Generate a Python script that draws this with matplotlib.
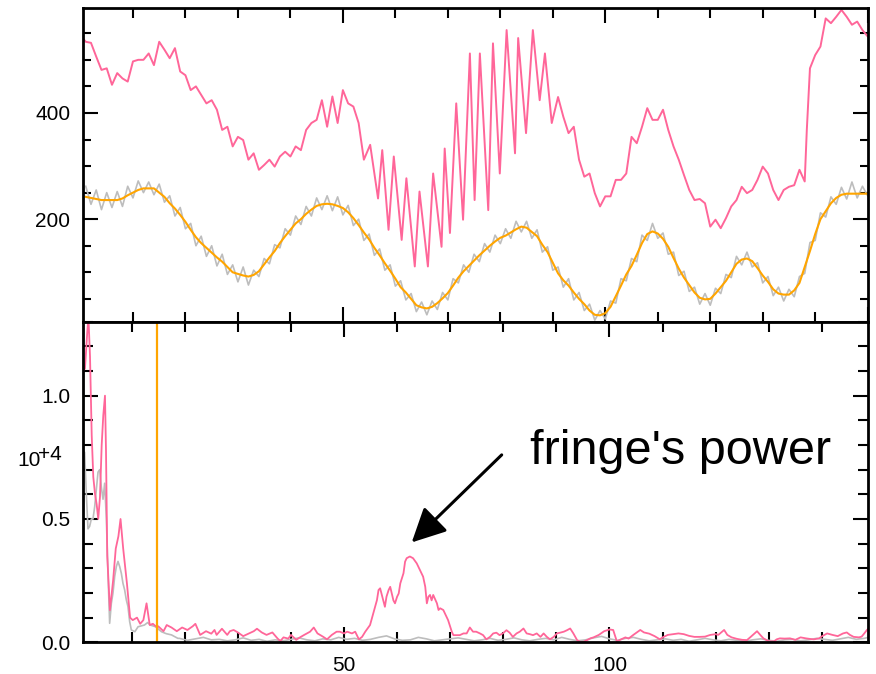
import matplotlib
matplotlib.use('Agg')
import matplotlib.pyplot as plt
from matplotlib.ticker import MultipleLocator, FormatStrFormatter
import numpy as np

plt.rcParams['font.family'] = ['Liberation Sans', 'DejaVu Sans']

# Colours
pink = '#ff6699'
grey = '#bdbdbd'
orange = '#ffa500'

# ---- Top panel: raw signal (pink), fringe-free signal (grey) and smoothed (orange)
pink_top_x = [0.5] + list(range(1, 55)) + [
    55.2, 56.7, 57.5, 58.7, 59.7, 61.2, 62.1, 63.7, 64.6, 66.2, 67.2, 68.8, 69.4, 70.4,
    71.6, 72.9, 74.2, 75.1, 76.1, 77.7, 78.6, 79.9, 81.2, 82.8, 83.4, 84.9, 86.2, 87.5,
    88.5, 89.8, 91] + list(range(92, 139)) + [138.4] + list(range(139, 151))
pink_top_y = [540,
    534, 532, 506, 481, 484, 453, 475, 465, 459, 497, 500, 500, 512, 490, 534, 519, 503, 522,
    478, 471, 443, 450, 434, 418, 424, 406, 368, 374, 337, 355, 349, 312, 324, 293, 302, 312,
    299, 318, 327, 318, 337, 330, 368, 381, 387, 424, 374, 431, 381, 443, 418, 412, 381, 312,
    340, 239, 330, 180, 318, 161, 277, 111, 252, 111, 286, 148, 333, 174,
    418, 199, 512, 236, 512, 217, 531, 286, 556, 324, 541, 362, 556, 424,
    512, 381, 430,
    393, 362, 374, 312, 280, 286, 249, 224, 243, 243, 274, 274, 286, 355, 343, 374, 409, 387,
    387, 406, 368, 337, 312, 283, 255, 236, 238, 230, 186, 199, 183, 202, 224, 236, 261, 249,
    255, 274, 299, 286, 255, 236, 255, 261, 264, 293, 271,
    368,
    484, 509, 525, 578, 569, 581, 594, 581, 566, 572, 556, 544]

top_x = list(range(1, 151))
orange_top = [
    242, 240, 238, 236, 236, 236, 236, 239, 245, 250, 255, 258, 258, 258, 250, 242, 230, 220,
    208, 195, 180, 166, 155, 146, 137, 128, 120, 110, 100, 97, 94, 92, 95, 102, 115, 128, 140,
    155, 168, 180, 192, 200, 210, 218, 225, 228, 229, 228, 225, 221, 213, 202, 189, 175, 162,
    146, 132, 117, 103, 88, 72, 62, 50, 38, 34, 32, 35, 42, 51, 61, 75, 90, 102, 112, 122, 132,
    141, 150, 158, 165, 169, 175, 181, 186, 184, 176, 168, 152, 138, 118, 98, 85, 75, 62, 50,
    40, 28, 20, 19, 23, 35, 55, 75, 96, 112, 133, 155, 172, 177, 173, 163, 148, 127, 107, 90,
    76, 62, 52, 49, 50, 60, 72, 84, 100, 116, 124, 126, 121, 108, 94, 82, 68, 60, 58, 58, 66,
    80, 110, 140, 172, 200, 215, 230, 240, 246, 248, 248, 248, 248, 248]
grey_top = [
    262, 228, 255, 218, 250, 222, 252, 224, 262, 240, 272, 250, 270, 246, 266, 232, 244, 206,
    222, 182, 192, 150, 168, 130, 150, 112, 134, 96, 114, 82, 110, 76, 104, 92, 126, 116, 152,
    146, 182, 170, 206, 190, 224, 206, 240, 218, 244, 216, 242, 208, 226, 188, 200, 160, 172,
    132, 144, 104, 114, 74, 84, 48, 60, 26, 44, 20, 46, 30, 62, 48, 88, 80, 114, 100, 134, 120,
    154, 138, 170, 154, 182, 164, 196, 176, 196, 164, 180, 138, 148, 104, 110, 72, 88, 48, 62,
    28, 40, 10, 28, 12, 46, 42, 88, 84, 126, 120, 170, 160, 192, 164, 174, 134, 138, 94, 102,
    64, 72, 40, 60, 38, 70, 60, 96, 90, 130, 114, 138, 110, 118, 80, 92, 56, 72, 46, 68, 54,
    92, 98, 156, 160, 212, 204, 242, 228, 260, 238, 270, 240, 262, 244]

# ---- Bottom panel: power spectra (units of 10^4)
pink_bot_x = [
    0.85, 1.2, 1.64, 1.85, 2.15, 2.47, 2.77, 3.1, 3.4, 3.7, 4.03, 4.35, 4.65, 4.97, 5.16, 5.4,
    5.9, 6.5, 7.0, 7.5, 7.9, 8.4, 9.1, 9.7, 10.2, 11, 11.6, 12.2, 12.8, 13.4, 14, 14.8,
    15, 16, 16.6, 17.5, 18.5, 19.5, 20.5, 21.5, 22, 22.9, 24, 25, 25.6, 26, 27, 28, 28.5, 29.2,
    30, 31, 32, 33, 33.6, 34.5, 35.4, 36.5, 37.5, 38, 38.6, 39.5, 40, 41, 41.7,
    42.5, 43.6, 44.3, 45, 46.1, 46.8, 47.7, 48.6, 49.2, 50, 50.6, 51.5, 52.1, 52.8, 53.4, 54,
    54.9, 55.5, 56.2, 56.5, 56.8, 57.2, 57.7, 58, 58.4, 58.7, 59, 59.3, 59.6, 60, 60.3, 60.6,
    61.2, 61.5, 61.8, 62.4, 63, 63.7, 64.3, 64.9, 65.3, 65.6, 65.9, 66.2, 66.5, 66.8, 67.5,
    67.8, 68.1, 68.7, 69.0, 69.6, 70, 70.3, 70.6, 71.2, 71.8, 72.5, 73.1, 73.7, 74.3, 74.9,
    75.6, 76.2, 76.8, 77.5, 78.1, 78.7, 79.3, 79.9, 80.6, 81.2, 81.8, 82.5, 83.1, 83.8, 84.4,
    85, 85.6, 86.3, 87, 87.6, 88.2, 88.8, 89.5, 90.1, 90.7, 91.4, 92, 92.6, 93.2, 93.9, 94.5,
    95.1, 95.8, 96.4, 97, 98, 99, 100, 100.7, 101.4, 102, 103, 103.6, 104.5, 105.8, 106.5,
    107.5, 108.5, 109.5, 110, 111, 112, 113, 114, 115, 116, 117, 118, 119, 120, 120.5, 121.6,
    122.2, 123, 124, 125, 125.9, 126.5, 127.8, 128.4, 129, 130, 131, 131.5, 132.1, 133, 134,
    135, 136, 137, 138, 138.5, 139.5, 140, 141, 142, 143, 144, 144.7, 145.3, 146, 147, 147.5,
    148, 148.5, 148.8]
pink_bot_y = [
    1.10, 1.11, 1.26, 1.32, 1.16, 0.84, 0.67, 0.60, 0.56, 0.50, 0.59, 0.80, 0.92, 1.00, 0.78, 0.35,
    0.13, 0.25, 0.38, 0.43, 0.50, 0.38, 0.24, 0.10, 0.09, 0.10, 0.075, 0.09, 0.158, 0.07, 0.075, 0.06,
    0.065, 0.045, 0.07, 0.06, 0.045, 0.06, 0.05, 0.065, 0.075, 0.03, 0.045, 0.035, 0.05, 0.03, 0.055,
    0.03, 0.045, 0.05, 0.04, 0.025, 0.035, 0.045, 0.055, 0.04, 0.03, 0.04, 0.015, 0.005, 0.02, 0.015,
    0.03, 0.01, 0.02,
    0.03, 0.043, 0.06, 0.036, 0.022, 0.012, 0.03, 0.043, 0.043, 0.036, 0.043, 0.036, 0.043, 0.012,
    0.022, 0.043, 0.07, 0.117, 0.171, 0.212, 0.219, 0.185, 0.144, 0.185, 0.212, 0.225, 0.198, 0.17,
    0.158, 0.185, 0.198, 0.239, 0.28, 0.327, 0.341, 0.348, 0.341, 0.32, 0.293, 0.266, 0.225, 0.158,
    0.185, 0.192, 0.17, 0.192, 0.158, 0.131, 0.138, 0.131, 0.117, 0.09, 0.063, 0.043, 0.029, 0.029,
    0.029, 0.036, 0.036, 0.06, 0.043, 0.043, 0.036, 0.029, 0.012, 0.022, 0.036, 0.039, 0.029, 0.036,
    0.049, 0.039, 0.022, 0.036, 0.043, 0.056, 0.036, 0.033, 0.029, 0.036, 0.022, 0.036, 0.022, 0.012,
    0.022, 0.036, 0.039, 0.043, 0.049, 0.056, 0.036, 0.009, 0.002, 0.002, 0.009, 0.016, 0.02, 0.03,
    0.045, 0.052, 0.05, 0.003, 0.01, 0.02, 0.015, 0.03, 0.05, 0.04, 0.035, 0.025, 0.012, 0.02, 0.03,
    0.033, 0.036, 0.033, 0.026, 0.022, 0.022, 0.023, 0.03, 0.033, 0.03, 0.05, 0.03, 0.02, 0.014,
    0.01, 0.009, 0.02, 0.045, 0.03, 0.016, 0.004, 0.004, 0.012, 0.016, 0.015, 0.016, 0.01, 0.02,
    0.016, 0.013, 0.012, 0.016, 0.024, 0.036, 0.03, 0.025, 0.036, 0.04, 0.03, 0.022, 0.02, 0.023,
    0.036, 0.05, 0.056]

grey_bot_x = [
    0.83, 1.14, 1.46, 1.77, 2.08, 2.4, 2.71, 3.03, 3.34, 3.66, 3.97, 4.28, 4.6, 4.91, 5.23, 5.54,
    5.85, 6.17, 6.48, 6.8, 7.11, 7.42, 7.74, 8.05, 8.36, 8.68, 8.99, 9.3, 9.62, 9.93, 10.6, 11.2,
    12.4, 13.0, 13.5, 14.5, 15.6, 16.5, 17.5, 18.7,
    19, 20.5, 22, 23.5, 25, 26.5, 28, 29.5, 31, 32.5, 34, 35.5, 37, 38.5, 40, 41.5, 43, 44.5, 46,
    47.5, 49, 50.5, 52, 53.5, 55, 56.5, 58, 59.5, 61, 62.5, 64, 65.5, 67, 68.5, 70, 71.5, 73,
    74.5, 76, 77.5, 79, 80.5, 82, 83.5, 85, 86.5, 88, 89.5, 91, 92.5, 94, 95.5, 97, 98.5, 100,
    101.5, 103, 104.5, 106, 107.5, 109, 110.5, 112, 113.5, 115, 116.5, 118, 119.5, 121, 122.5,
    124, 125.5, 127, 128.5, 130, 131.5, 133, 134.5, 136, 137.5, 139, 140.5, 142, 143.5, 145,
    146.5, 148, 148.8]
grey_bot_y = [
    0.78, 0.77, 0.60, 0.46, 0.47, 0.50, 0.50, 0.55, 0.62, 0.69, 0.70, 0.63, 0.58, 0.645, 0.50, 0.28,
    0.077, 0.158, 0.20, 0.267, 0.307, 0.328, 0.307, 0.28, 0.239, 0.212, 0.172, 0.145, 0.084, 0.05,
    0.043, 0.063, 0.07, 0.08, 0.07, 0.063, 0.043, 0.035, 0.03, 0.016,
    0.016, 0.008, 0.014, 0.02, 0.01, 0.012, 0.006, 0.01, 0.018, 0.008, 0.012, 0.004, 0.01, 0.006,
    0.012, 0.018, 0.01, 0.006, 0.014, 0.01, 0.02, 0.012, 0.016, 0.008, 0.012, 0.02, 0.026, 0.014,
    0.008, 0.01, 0.02, 0.014, 0.006, 0.01, 0.014, 0.018, 0.012, 0.006, 0.01, 0.016, 0.008, 0.012,
    0.018, 0.01, 0.006, 0.012, 0.016, 0.01, 0.02, 0.012, 0.006, 0.01, 0.018, 0.024, 0.014, 0.008,
    0.016, 0.02, 0.012, 0.006, 0.01, 0.014, 0.008, 0.012, 0.004, 0.01, 0.016, 0.01, 0.006, 0.012,
    0.008, 0.004, 0.01, 0.014, 0.008, 0.004, 0.01, 0.012, 0.006, 0.01, 0.016, 0.012, 0.008, 0.014,
    0.02, 0.012, 0.016, 0.02]

cutoff_x = 14.8
arrow_tail = (79.7, 0.76)
arrow_tip = (62.75, 0.405)

# Figure and axes (pixel layout of the reference, 876x674)
W, H = 876.0, 674.0
fig = plt.figure(figsize=(W / 100, H / 100), dpi=100)
ax_1 = fig.add_axes([83 / W, 1 - 321.7 / H, 785 / W, (321.7 - 8.3) / H])
ax_2 = fig.add_axes([83 / W, 1 - 642.3 / H, 785 / W, (642.3 - 321.7) / H])

ax_1.plot(pink_top_x, pink_top_y, color=pink, lw=1.4)
ax_1.plot(top_x, grey_top, color=grey, lw=1.2)
ax_1.plot(top_x, orange_top, color=orange, lw=1.5)
ax_1.set_xlim(0.48, 150.06)
ax_1.set_ylim(7, 597)

ax_2.plot(grey_bot_x, grey_bot_y, color=grey, lw=1.2)
ax_2.plot(pink_bot_x, pink_bot_y, color=pink, lw=1.3)
ax_2.axvline(cutoff_x, color=orange, lw=1.6)
ax_2.set_xlim(0.83, 148.7)
ax_2.set_ylim(0, 1.30)

# IDL style axes: ticks inside on all four sides
for ax in (ax_1, ax_2):
    for s in ax.spines.values():
        s.set_linewidth(2.0)
    ax.xaxis.set_major_locator(MultipleLocator(50))
    ax.xaxis.set_minor_locator(MultipleLocator(10))
    ax.tick_params(which='both', direction='in', top=True, right=True, width=1.5,
                   labelsize=15, colors='black')
    ax.tick_params(which='major', length=10.8)
    ax.tick_params(axis='x', which='minor', length=7.2)
    ax.tick_params(axis='x', pad=10)
    ax.tick_params(axis='y', pad=9)

ax_1.yaxis.set_major_locator(MultipleLocator(200))
ax_1.yaxis.set_minor_locator(MultipleLocator(50))
ax_1.tick_params(axis='y', which='minor', length=5.5)
ax_1.tick_params(labelbottom=False)

ax_2.yaxis.set_major_locator(MultipleLocator(0.5))
ax_2.yaxis.set_minor_locator(MultipleLocator(0.1))
ax_2.yaxis.set_major_formatter(FormatStrFormatter('%.1f'))
ax_2.tick_params(axis='y', which='minor', length=7.2)

# Exponent label of the spectrum axis
fig.text(17 / W, 1 - 460 / H, '10', fontsize=15, va='center', ha='left')
fig.text(38 / W, 1 - 455 / H, '+4', fontsize=15, va='center', ha='left')

# Annotation
ax_2.annotate('', xy=arrow_tip, xytext=arrow_tail,
              arrowprops=dict(arrowstyle='-|>,head_length=0.8,head_width=0.4',
                              mutation_scale=26, lw=2.2, color='black',
                              shrinkA=0, shrinkB=0))
ax_2.text(85.0, 0.773, "fringe's power", fontsize=35, ha='left', va='center')

fig.savefig('out.png', dpi=100)
